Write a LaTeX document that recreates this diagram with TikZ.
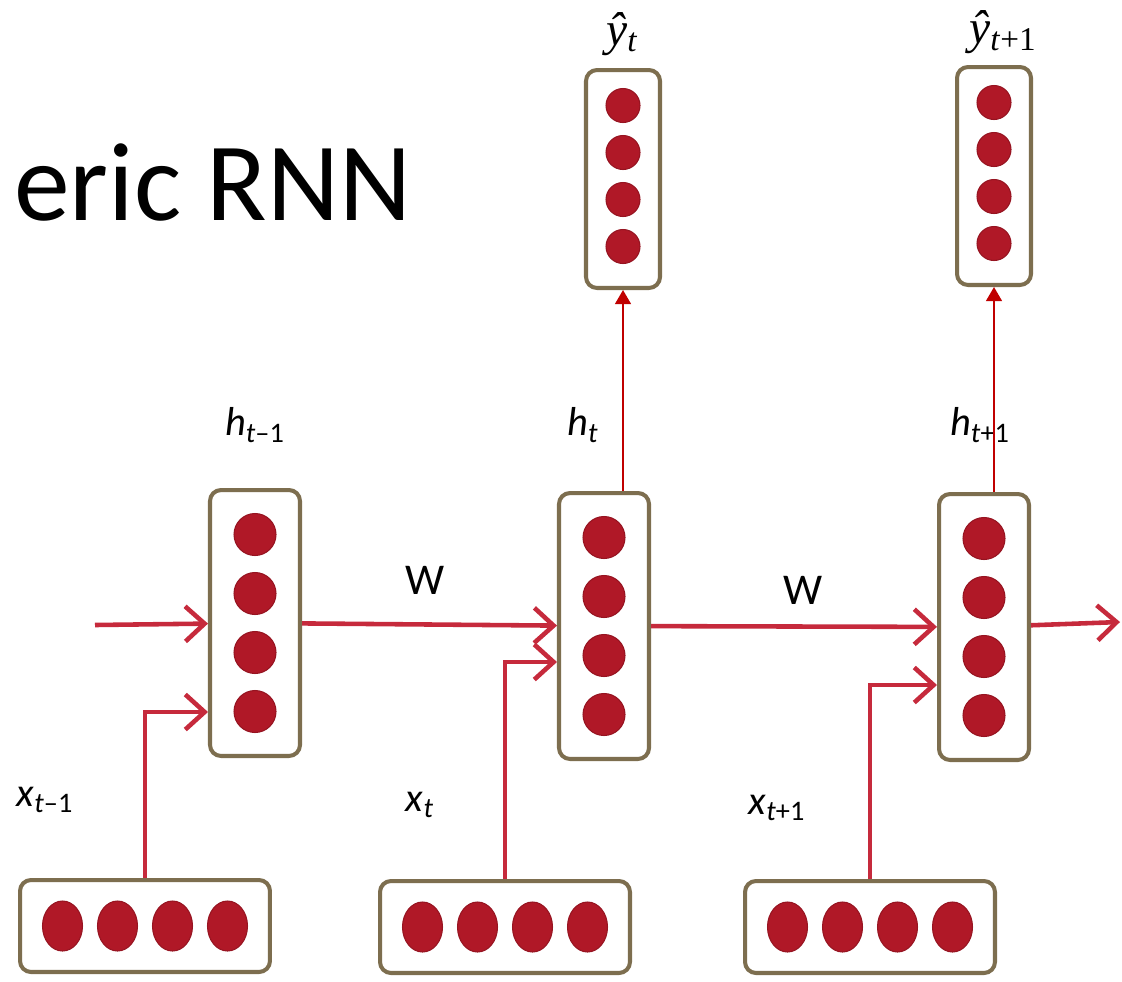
\documentclass[tikz,border=0pt]{standalone}
\usepackage{fontspec}
\setmainfont{Carlito}
\newfontfamily\yfont{Liberation Serif}
\usepackage{xcolor}
\usetikzlibrary{shapes,arrows.meta,positioning,calc}

\definecolor{dotred}{HTML}{B01827}
\definecolor{boxline}{HTML}{7D6E4F}
\definecolor{linkred}{HTML}{C62A3C}
\definecolor{outred}{HTML}{C00000}

\begin{document}
\begin{tikzpicture}[
    x=0.02cm, y=-0.02cm,
    cell/.style={rectangle, draw=boxline, line width=2.3pt, rounded corners=0.22cm, fill=white, inner sep=0pt},
    hbox/.style={cell, minimum width=1.8cm, minimum height=5.32cm},
    ybox/.style={cell, minimum width=1.48cm, minimum height=4.36cm},
    xbox/.style={cell, minimum width=5.0cm, minimum height=1.84cm},
    hdot/.style={circle, fill=dotred, draw=dotred!85!black, line width=0.6pt, minimum size=0.84cm, inner sep=0pt},
    ydot/.style={hdot, minimum size=0.68cm},
    xdot/.style={ellipse, fill=dotred, draw=dotred!85!black, line width=0.6pt, minimum width=0.8cm, minimum height=1.0cm, inner sep=0pt},
    lbl/.style={font=\fontsize{23}{27}\selectfont, inner sep=0pt},
    ylbl/.style={font=\fontsize{27}{31}\selectfont\yfont\itshape, inner sep=0pt},
    recur/.style={draw=linkred, line width=2.6pt, -{Straight Barb[length=11pt, width=20pt]}},
    emit/.style={draw=outred, line width=1.1pt, -{Triangle[length=8pt, width=9pt]}}
]
    \useasboundingbox (0,0) rectangle (1122,981);

    % title, cut off at the left edge
    \node[anchor=base west, inner sep=0pt, font=\fontsize{63.5}{70}\selectfont] (title) at (14,220) {eric RNN};

    % hidden layers
    \node[hbox] (h1) at (255,623) {};
    \node[hbox] (h2) at (604,626) {};
    \node[hbox] (h3) at (984,627) {};

    % outputs
    \node[ybox] (y2) at (623,179) {};
    \node[ybox] (y3) at (994,176) {};

    % inputs
    \node[xbox] (x1) at (145,926) {};
    \node[xbox] (x2) at (505,927) {};
    \node[xbox] (x3) at (870,927) {};

    % units
    \foreach \b in {h1,h2,h3}
        \foreach \k in {1,...,4}
            \node[hdot] (\b d\k) at ($(\b)+(0,{(\k-2.5)*59})$) {};
    \foreach \b in {y2,y3}
        \foreach \k in {1,...,4}
            \node[ydot] (\b d\k) at ($(\b)+(0,{(\k-2.5)*47-3})$) {};
    \foreach \b in {x1,x2,x3}
        \foreach \k in {1,...,4}
            \node[xdot] (\b d\k) at ($(\b)+({(\k-2.5)*55},0)$) {};

    % labels
    \node[lbl] (hl1) at (255,425) {\textit{h}\textsubscript{\textit{t}–1}};
    \node[lbl] (hl2) at (583,425) {\textit{h}\textsubscript{\textit{t}}};
    \node[lbl] (hl3) at (980,425) {\textit{h}\textsubscript{\textit{t}+1}};
    \node[lbl] (xl1) at (45,800) {\textit{x}\textsubscript{\textit{t}–1}};
    \node[lbl] (xl2) at (420,805) {\textit{x}\textsubscript{\textit{t}}};
    \node[lbl] (xl3) at (777,808) {\textit{x}\textsubscript{\textit{t}+1}};
    \node[lbl, font=\fontsize{25}{29}\selectfont] (w1) at (425,580) {W};
    \node[lbl, font=\fontsize{25}{29}\selectfont] (w2) at (803,590) {W};
    \node[ylbl] (yl2) at (622,34) {ŷ\textsubscript{t}};
    \node[ylbl] (yl3) at (1003,32) {ŷ\textsubscript{\upshape\textit{t}+1}};

    % recurrent links
    \coordinate (entry) at (95,625);
    \coordinate (exit) at (1120,622);
    \draw[recur] (entry) -- (h1);
    \draw[recur] (h1) -- (h2);
    \draw[recur] (h2) -- (h3);
    \draw[recur] (h3) -- (exit);

    % input links
    \draw[recur] (x1.north) |- ($(h1.west)+(0,89)$);
    \draw[recur] (x2.north) |- ($(h2.west)+(0,36)$);
    \draw[recur] (x3.north) |- ($(h3.west)+(0,58)$);

    % output links
    \draw[emit] (y2.south |- h2.north) -- (y2.south);
    \draw[emit] (y3.south |- h3.north) -- (y3.south);
\end{tikzpicture}
\end{document}
